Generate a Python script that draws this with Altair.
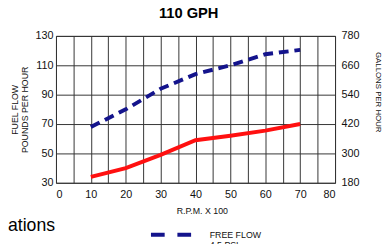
import altair as alt
import pandas as pd

rpm = [10, 20, 30, 40, 50, 60, 70]
free_flow_lbs = [68, 80, 94, 104, 110, 117.5, 120.5]
second_lbs = [34, 40, 49, 59, 62, 65.5, 70]
x_ticks = [0, 5, 10, 15, 20, 25, 30, 35, 40, 45, 50, 55, 60, 65, 70, 75, 80]
lbs_ticks = [30, 50, 70, 90, 110, 130]
gph_ticks = [180, 300, 420, 540, 660, 780]

FONT = "Liberation Sans"

df_free = pd.DataFrame({"rpm": rpm, "lbs": free_flow_lbs, "series": ["FREE FLOW"] * len(rpm)})
df_second = pd.DataFrame({"rpm": rpm, "lbs": second_lbs})
df_gph = pd.DataFrame({"gph": gph_ticks})

xscale = alt.Scale(domain=[0, 80], nice=False, zero=False)
yscale = alt.Scale(domain=[30, 130], nice=False, zero=False)

x_axis = alt.Axis(values=x_ticks, labelExpr="datum.value % 10 == 0 ? datum.label : ''",
                  title="R.P.M. X 100", titleFontSize=9, titleFontWeight="normal", titleFont=FONT,
                  titlePadding=7, titleX=149, labelOverlap=False,
                  labelFontSize=11, labelFont=FONT, labelPadding=6, tickSize=0, domain=False,
                  grid=True, gridColor="#333", gridWidth=1, labelColor="#111", titleColor="#111")
y_axis = alt.Axis(values=lbs_ticks, title=["FUEL FLOW", "POUNDS PER HOUR"], titleFontSize=9,
                  titleFontWeight="normal", titleFont=FONT, titleLineHeight=10, titlePadding=6,
                  labelFontSize=11, labelFont=FONT, labelPadding=3, tickSize=0, domain=False,
                  grid=True, gridColor="#333", gridWidth=1, labelColor="#111", titleColor="#111")

x_enc = alt.X("rpm:Q", scale=xscale, axis=x_axis)
y_enc = alt.Y("lbs:Q", scale=yscale, axis=y_axis)

free = alt.Chart(df_free).mark_line(strokeWidth=4, strokeDash=[10, 6]).encode(
    x=x_enc, y=y_enc,
    color=alt.Color("series:N", scale=alt.Scale(domain=["FREE FLOW"], range=["#14148c"]),
                    legend=alt.Legend(title=None, orient="none", legendX=95, legendY=180,
                                      symbolType="stroke", symbolSize=1764, symbolStrokeWidth=4,
                                      symbolDash=[14, 13], symbolOffset=0, labelOffset=16,
                                      labelFont=FONT, labelFontSize=9, labelColor="#111",
                                      labelExpr="['FREE FLOW', '4.5 PSI']", labelLimit=200)),
)
second = alt.Chart(df_second).mark_line(strokeWidth=4, color="#ff1010").encode(
    x=x_enc, y=y_enc
)
right = alt.Chart(df_gph).mark_point(opacity=0).encode(
    y=alt.Y("gph:Q", scale=alt.Scale(domain=[180, 780], nice=False, zero=False),
            axis=alt.Axis(orient="right", values=gph_ticks, title=["FUEL FLOW", "GALLONS PER HOUR"],
                          titleAngle=90, titleFontSize=8, titleFontWeight="normal",
                          titleFont="Liberation Sans Narrow, Liberation Sans", titleLineHeight=10,
                          titleX=53, titleY=57, titleBaseline="middle", titleAlign="center",
                          labelFontSize=11, labelFont=FONT, labelPadding=6, tickSize=0, domain=False,
                          grid=False, labelColor="#111", titleColor="#111"))
)
note = alt.Chart(pd.DataFrame({"t": ["ations"]})).mark_text(
    font=FONT, fontSize=18, align="left", baseline="alphabetic", color="#000"
).encode(text="t:N", x=alt.value(-49), y=alt.value(199))

main = alt.layer(free, second, note)

chart = alt.layer(main, right).resolve_scale(y="independent").properties(
    width=285, height=150,
    title=alt.TitleParams("110 GPH", font=FONT, fontSize=15, fontWeight="bold", anchor="middle",
                          dx=-7, offset=9, color="#000"),
    autosize=alt.AutoSizeParams(type="none"),
    padding={"left": 49, "top": 26, "right": 50, "bottom": 60},
).configure_view(stroke="#333", strokeWidth=1)

chart.save("out.html", embed_options={"renderer": "svg", "actions": False})
